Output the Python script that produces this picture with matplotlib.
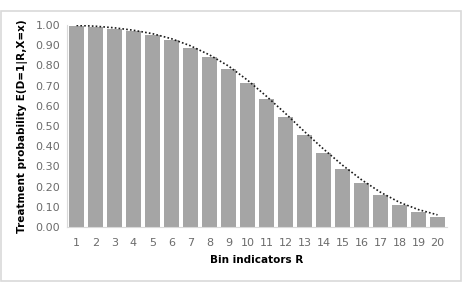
import matplotlib.pyplot as plt
import numpy as np
from matplotlib.patches import Rectangle

bins = list(range(1, 21))
probs = [0.995, 0.99, 0.98, 0.97, 0.952, 0.925, 0.888, 0.843, 0.782, 0.711,
         0.632, 0.546, 0.455, 0.368, 0.287, 0.218, 0.158, 0.109, 0.073, 0.048]
trend = [0.998, 0.994, 0.986, 0.974, 0.957, 0.932, 0.897, 0.852, 0.797, 0.727,
         0.647, 0.562, 0.472, 0.386, 0.306, 0.234, 0.172, 0.122, 0.086, 0.060]
yticks = [0.0, 0.1, 0.2, 0.3, 0.4, 0.5, 0.6, 0.7, 0.8, 0.9, 1.0]

fig = plt.figure(figsize=(4.63, 2.87), dpi=100)
# chart area frame
fig.patches.append(Rectangle((0.003, 0.022), 0.993, 0.94, transform=fig.transFigure,
                             fill=False, edgecolor="#d9d9d9", linewidth=1.2))
ax = fig.add_axes([67 / 463, 1 - 227 / 287, 380 / 463, 202 / 287])

x = np.arange(len(bins))
ax.bar(x, probs, width=0.84, color="#a5a5a5", zorder=2)
ax.plot(x, trend, linestyle=(0, (1, 1.3)), color="#1a1a1a", linewidth=1.2, zorder=3)

ax.set_xlim(-0.5, len(bins) - 0.5)
ax.set_ylim(0, 1.0)
ax.set_xticks(x)
ax.set_xticklabels([str(b) for b in bins])
ax.set_yticks(yticks)
ax.set_yticklabels([f"{v:.2f}" for v in yticks])
ax.tick_params(axis="both", length=0, labelsize=8, colors="#6b6b6b")
ax.tick_params(axis="x", pad=8)
ax.tick_params(axis="y", pad=5)

for side in ["top", "right"]:
    ax.spines[side].set_visible(False)
ax.spines["left"].set_color("#d9d9d9")
ax.spines["bottom"].set_color("#d9d9d9")

ax.set_xlabel("Bin indicators R", fontsize=7.5, fontweight="bold", labelpad=5)
ax.set_ylabel("Treatment probability E(D=1|R,X=x)", fontsize=7.5, fontweight="bold", labelpad=5)

fig.savefig("out.png", dpi=100)
